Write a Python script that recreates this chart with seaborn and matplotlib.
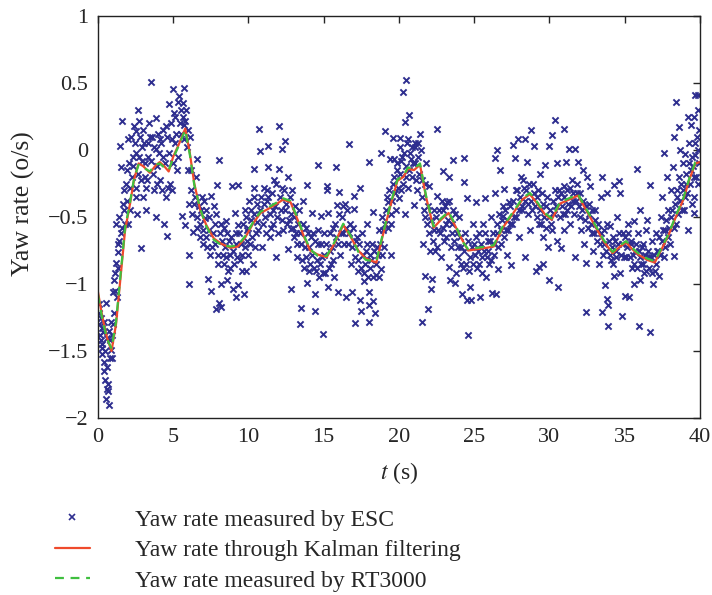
import matplotlib
matplotlib.use("Agg")
import matplotlib.pyplot as plt
import pandas as pd
import seaborn as sns
from matplotlib.lines import Line2D

# ==============================================================================
# DATA
# ==============================================================================

# Kalman filtered yaw rate (red solid)
kalman_t = [0.0, 0.3, 0.6, 0.9, 1.2, 1.5, 1.8, 2.1, 2.4, 2.7, 3.0, 3.45, 3.8, 4.1,
            4.4, 4.7, 5.0, 5.4, 5.8, 6.1, 6.4, 6.8, 7.2, 7.7, 8.2, 8.8, 9.3, 9.8,
            10.3, 10.8, 11.3, 11.9, 12.3, 12.8, 13.3, 13.7, 14.1, 14.6, 15.2, 15.7,
            16.3, 16.8, 17.3, 17.8, 18.5, 18.9, 19.4, 19.9, 20.3, 20.6, 21.0, 21.4,
            21.8, 22.3, 22.8, 23.3, 23.8, 24.2, 24.6, 25.2, 25.8, 26.3, 26.9, 27.6,
            28.2, 28.7, 29.2, 29.7, 30.15, 30.7, 31.3, 31.9, 32.3, 32.7, 33.1, 33.6,
            34.2, 34.7, 35.1, 35.5, 35.9, 36.5, 37.0, 37.5, 37.9, 38.4, 38.9, 39.3,
            39.7, 40.0]
kalman_y = [-1.06, -1.25, -1.40, -1.50, -1.30, -0.95, -0.60, -0.42, -0.22, -0.10,
            -0.12, -0.17, -0.12, -0.09, -0.12, -0.16, -0.05, 0.05, 0.16, -0.02,
            -0.25, -0.45, -0.56, -0.66, -0.70, -0.73, -0.72, -0.65, -0.55, -0.47,
            -0.44, -0.40, -0.37, -0.39, -0.53, -0.65, -0.75, -0.78, -0.80, -0.70,
            -0.56, -0.65, -0.75, -0.81, -0.84, -0.65, -0.43, -0.23, -0.20, -0.14,
            -0.15, -0.11, -0.35, -0.58, -0.52, -0.47, -0.58, -0.67, -0.75, -0.74,
            -0.73, -0.72, -0.58, -0.47, -0.37, -0.33, -0.40, -0.48, -0.52, -0.40,
            -0.37, -0.34, -0.42, -0.50, -0.58, -0.68, -0.77, -0.72, -0.69, -0.74,
            -0.78, -0.82, -0.84, -0.73, -0.64, -0.50, -0.37, -0.22, -0.10, -0.09]

# RT3000 yaw rate (green dashed) - almost on top of the Kalman curve
rt_y = [-1.08, -1.27, -1.41, -1.48, -1.28, -0.93, -0.58, -0.41, -0.21, -0.11,
        -0.13, -0.16, -0.11, -0.10, -0.13, -0.15, -0.06, 0.04, 0.15, -0.03,
        -0.26, -0.44, -0.57, -0.67, -0.71, -0.72, -0.71, -0.64, -0.54, -0.46,
        -0.43, -0.39, -0.36, -0.38, -0.52, -0.64, -0.74, -0.79, -0.79, -0.69,
        -0.55, -0.64, -0.76, -0.82, -0.83, -0.64, -0.42, -0.22, -0.19, -0.13,
        -0.14, -0.10, -0.34, -0.57, -0.51, -0.46, -0.57, -0.68, -0.74, -0.73,
        -0.72, -0.71, -0.57, -0.46, -0.36, -0.32, -0.39, -0.47, -0.51, -0.39,
        -0.36, -0.33, -0.41, -0.49, -0.57, -0.67, -0.76, -0.71, -0.68, -0.73,
        -0.77, -0.81, -0.83, -0.72, -0.63, -0.49, -0.36, -0.21, -0.09, -0.08]

# ESC measurements (blue crosses), grouped by time window
esc_00_05 = [(0.05, -1.30), (0.1, -1.22), (0.15, -1.38), (0.2, -1.25), (0.2, -1.42),
             (0.25, -1.33), (0.3, -1.48), (0.3, -1.52), (0.35, -1.36), (0.42, -1.58),
             (0.42, -1.65), (0.5, -1.72), (0.53, -1.14), (0.55, -1.86), (0.6, -1.78),
             (0.64, -1.80), (0.68, -1.75), (0.71, -1.90), (0.75, -1.35), (0.8, -1.42),
             (0.86, -1.28), (0.86, -1.49), (0.95, -1.55), (0.98, -1.06), (1.05, -1.22),
             (1.08, -0.97), (1.1, -0.92), (1.2, -0.84), (1.2, -0.55), (1.25, -1.10),
             (1.3, -0.76), (1.3, -0.70), (1.4, -0.50), (1.45, 0.03), (1.5, -0.62),
             (1.55, -0.13), (1.6, 0.22), (1.65, -0.40), (1.7, -0.30), (1.8, -0.55),
             (1.9, -0.15), (2.0, -0.55), (2.0, 0.08), (2.1, -0.28), (2.2, 0.10),
             (2.3, -0.05), (2.4, 0.18), (2.5, -0.35), (2.52, -0.28), (2.53, 0.14),
             (2.6, -0.48), (2.64, 0.30), (2.7, 0.22), (2.75, -0.05), (2.86, -0.73),
             (2.9, 0.02), (2.97, -0.35), (3.0, 0.15), (3.1, -0.20), (3.18, -0.28),
             (3.2, -0.45), (3.3, 0.05), (3.41, 0.20), (3.5, 0.51), (3.55, -0.08),
             (3.6, 0.10), (3.7, -0.30), (3.85, 0.01), (3.85, 0.24), (3.86, -0.50),
             (3.95, -0.12), (4.0, 0.12), (4.1, -0.22), (4.2, 0.05), (4.3, -0.05),
             (4.4, -0.55), (4.5, -0.35), (4.55, 0.18), (4.6, 0.10), (4.6, -0.64),
             (4.7, -0.02), (4.74, 0.34), (4.8, -0.25), (4.9, 0.08), (5.0, 0.455),
             (5.0, -0.10)]
esc_05_10 = [(5.07, 0.275), (5.1, 0.05), (5.2, 0.12), (5.3, 0.36), (5.35, -0.05),
             (5.45, 0.20), (5.5, 0.30), (5.6, -0.49), (5.63, 0.25), (5.7, 0.08),
             (5.73, 0.46), (5.73, 0.19), (5.8, -0.56), (5.85, 0.30), (5.9, 0.02),
             (6.0, -0.15), (6.07, -0.78), (6.07, -1.0), (6.1, 0.10), (6.2, -0.30),
             (6.3, -0.61), (6.35, -0.40), (6.5, -0.20), (6.6, -0.07), (6.6, -0.50),
             (6.7, -0.42), (6.8, -0.65), (6.9, -0.35), (7.0, -0.70), (7.1, -0.51),
             (7.2, -0.45), (7.3, -0.96), (7.35, -0.60), (7.5, -0.34), (7.5, -1.05),
             (7.6, -0.72), (7.7, -0.42), (7.75, -0.55), (7.84, -1.19), (7.9, -0.26),
             (7.95, -0.85), (8.06, -0.075), (8.06, -1.14), (8.1, -0.62), (8.17, -1.00),
             (8.2, -1.17), (8.3, -0.78), (8.4, -0.58), (8.5, -0.53), (8.5, -0.80),
             (8.6, -0.97), (8.7, -0.68), (8.8, -0.88), (8.9, -0.27), (8.95, -1.04),
             (9.0, -0.75), (9.1, -0.47), (9.17, -1.10), (9.2, -0.62), (9.3, -0.26),
             (9.3, -0.56), (9.3, -1.01), (9.45, -0.82), (9.5, -0.70), (9.6, -0.90),
             (9.72, -1.075), (9.8, -0.45), (9.83, -0.90), (9.9, -0.60), (9.95, -0.78)]
esc_10_15 = [(10.05, -0.38), (10.1, -0.70), (10.2, -0.52), (10.3, -0.85), (10.4, -0.14),
             (10.4, -0.28), (10.4, -0.35), (10.5, -0.62), (10.6, -0.54), (10.7, 0.16),
             (10.75, -0.45), (10.8, -0.01), (10.9, -0.72), (11.0, -0.28), (11.1, -0.50),
             (11.2, -0.38), (11.3, 0.03), (11.3, -0.13), (11.3, -0.35), (11.4, -0.65),
             (11.5, -0.58), (11.6, -0.45), (11.7, -0.22), (11.8, -0.80), (11.9, -0.50),
             (12.0, -0.14), (12.05, 0.18), (12.1, -0.35), (12.2, 0.01), (12.2, -0.28),
             (12.3, -0.60), (12.4, 0.07), (12.45, -0.45), (12.6, -0.74), (12.6, -0.20),
             (12.7, -0.52), (12.8, -0.59), (12.8, -1.04), (12.9, -0.30), (13.0, -0.65),
             (13.1, -0.42), (13.2, -0.80), (13.3, -0.55), (13.4, -1.30), (13.5, -1.18),
             (13.5, -0.70), (13.6, -0.38), (13.7, -0.88), (13.8, -0.58), (13.9, -0.26),
             (13.9, -0.99), (14.0, -0.72), (14.1, -0.85), (14.2, -0.47), (14.3, -0.62),
             (14.4, -1.075), (14.4, -1.2), (14.5, -0.90), (14.6, -0.11), (14.6, -0.70),
             (14.7, -0.95), (14.8, -0.49), (14.9, -0.80), (14.93, -1.375)]
esc_15_20 = [(15.05, -0.62), (15.1, -0.92), (15.2, -0.30), (15.2, -0.27), (15.26, -1.025),
             (15.3, -0.47), (15.4, -0.75), (15.5, -0.85), (15.6, -0.58), (15.7, -0.95),
             (15.8, -0.125), (15.85, -0.65), (15.9, -0.41), (15.93, -1.06), (16.0, -0.31),
             (16.1, -0.78), (16.2, -0.50), (16.3, -0.62), (16.4, -0.40), (16.5, -1.10),
             (16.6, -0.70), (16.7, 0.045), (16.75, -0.55), (16.8, -0.85), (16.9, -1.06),
             (17.0, -0.34), (17.0, -0.44), (17.1, -1.29), (17.15, -0.68), (17.3, -0.90),
             (17.4, -0.28), (17.4, -1.12), (17.5, -1.20), (17.55, -0.62), (17.7, -0.975),
             (17.8, -0.75), (17.9, -0.55), (18.0, -0.09), (18.0, -1.06), (18.0, -1.16),
             (18.0, -1.28), (18.1, -0.88), (18.2, -0.70), (18.3, -1.13), (18.3, -0.46),
             (18.4, -1.22), (18.5, -0.93), (18.6, -0.78), (18.7, -0.60), (18.8, -0.02),
             (18.8, -0.89), (18.9, -0.50), (19.0, -0.72), (19.1, 0.145), (19.2, -0.35),
             (19.3, -0.39), (19.4, -0.07), (19.5, -0.78), (19.5, -0.55), (19.6, 0.09),
             (19.6, -0.25), (19.7, -0.07), (19.8, -0.45), (19.9, -0.15)]
esc_20_25 = [(20.0, -0.36), (20.05, 0.02), (20.1, 0.09), (20.15, -0.30), (20.2, -0.05),
             (20.3, 0.43), (20.4, 0.21), (20.4, -0.48), (20.45, -0.12), (20.5, 0.525),
             (20.55, 0.05), (20.6, -0.28), (20.7, 0.26), (20.75, -0.02), (20.8, -0.07),
             (20.9, -0.20), (21.0, -0.41), (21.05, 0.02), (21.1, -0.10), (21.2, -0.30),
             (21.3, 0.05), (21.4, 0.12), (21.5, -1.28), (21.5, -0.22), (21.6, -0.70),
             (21.7, -0.94), (21.75, -0.50), (21.8, -0.10), (21.9, -1.19), (22.0, -0.27),
             (22.0, -0.62), (22.1, -1.04), (22.2, -0.96), (22.3, -0.45), (22.4, -0.75),
             (22.5, 0.16), (22.5, -0.34), (22.6, -0.60), (22.8, -0.80), (22.9, -0.16),
             (22.9, -0.45), (23.0, -0.68), (23.1, -0.55), (23.2, -0.39), (23.3, -0.20),
             (23.3, -0.87), (23.4, -0.97), (23.5, -0.62), (23.6, -0.075), (23.6, -0.45),
             (23.7, -0.99), (23.8, -0.92), (23.9, -0.72), (24.0, -0.50), (24.1, -0.85),
             (24.2, -1.075), (24.3, -0.06), (24.3, -0.235), (24.4, -0.62), (24.5, -0.36),
             (24.56, -1.38), (24.55, -1.12), (24.7, -1.02), (24.75, -0.80), (24.8, -1.12),
             (24.9, -0.55)]
esc_25_30 = [(25.0, -0.70), (25.1, -0.39), (25.2, -0.88), (25.3, -0.62), (25.4, -1.10),
             (25.5, -0.80), (25.6, -0.55), (25.7, -0.36), (25.8, -0.95), (25.9, -0.68),
             (26.0, -0.85), (26.1, -0.50), (26.2, -1.07), (26.3, -0.78), (26.4, -0.06),
             (26.4, -0.32), (26.45, -1.075), (26.5, 0.0), (26.55, -0.62), (26.6, -0.89),
             (26.7, -0.15), (26.8, -0.70), (26.9, -0.42), (26.9, -0.49), (27.0, -0.29),
             (27.1, -0.60), (27.2, -0.78), (27.3, -0.39), (27.45, -0.86), (27.5, -0.55),
             (27.6, 0.04), (27.7, -0.06), (27.8, -0.50), (27.85, -0.30), (27.9, 0.08),
             (28.0, -0.65), (28.1, -0.20), (28.2, -0.45), (28.3, -0.28), (28.4, 0.08),
             (28.4, -0.80), (28.5, -0.09), (28.6, -0.40), (28.7, -0.60), (28.8, 0.15),
             (28.9, -0.25), (29.0, 0.03), (29.1, -0.90), (29.2, -0.50), (29.3, -0.55),
             (29.3, -0.87), (29.4, -0.18), (29.5, -0.32), (29.55, -0.85), (29.6, -0.65),
             (29.7, -0.11), (29.8, -0.42), (29.9, -0.72), (30.0, 0.03), (30.0, -0.97)]
esc_30_35 = [(30.1, -0.55), (30.2, 0.11), (30.25, -0.38), (30.4, 0.225), (30.5, -0.10),
             (30.5, -0.68), (30.6, -1.02), (30.65, -0.30), (30.8, -0.73), (30.9, -0.48),
             (31.0, 0.16), (31.0, -0.27), (31.0, -0.60), (31.1, -0.09), (31.2, -0.45),
             (31.3, 0.01), (31.4, -0.55), (31.5, -0.22), (31.6, -0.38), (31.7, 0.01),
             (31.7, -0.80), (31.8, -0.32), (31.9, -0.09), (32.0, -0.50), (32.1, -0.60),
             (32.2, -0.15), (32.3, -0.70), (32.4, -0.84), (32.4, -1.21), (32.5, -0.20),
             (32.6, -0.40), (32.7, -0.27), (32.8, -0.62), (32.9, -0.75), (33.0, -0.45),
             (33.2, -0.60), (33.3, -0.85), (33.4, -0.35), (33.5, -0.20), (33.5, -1.21),
             (33.6, -0.70), (33.7, -1.01), (33.8, -0.32), (33.8, -1.11), (33.85, -0.55),
             (33.9, -1.16), (33.9, -1.31), (34.0, -0.57), (34.1, -0.82), (34.2, -0.65),
             (34.3, -0.26), (34.3, -0.94), (34.4, -0.75), (34.5, -0.50), (34.6, -0.23),
             (34.7, -0.32), (34.7, -0.92), (34.8, -1.24), (34.9, -0.62), (35.0, -1.09)]
esc_35_40 = [(35.1, -0.80), (35.2, -0.55), (35.3, -1.10), (35.4, -0.70), (35.5, -0.88),
             (35.6, -0.53), (35.6, -1.00), (35.7, -0.75), (35.8, -0.14), (35.9, -0.62),
             (35.97, -1.31), (36.0, -0.45), (36.0, -0.97), (36.1, -0.85), (36.2, -0.70),
             (36.3, -0.92), (36.4, -0.60), (36.5, -0.52), (36.6, -0.80), (36.7, -0.26),
             (36.7, -1.355), (36.8, -0.68), (36.9, -1.00), (37.0, -0.90), (37.1, -0.62),
             (37.2, -0.75), (37.3, -0.94), (37.4, -0.50), (37.5, -0.35), (37.6, -0.02),
             (37.6, -0.80), (37.7, -0.60), (37.8, -0.20), (37.9, -0.45), (38.0, -0.70),
             (38.1, -0.30), (38.2, -0.13), (38.3, 0.10), (38.3, -0.79), (38.4, 0.36),
             (38.4, -0.55), (38.5, -0.35), (38.6, 0.17), (38.6, -0.20), (38.7, 0.0),
             (38.8, -0.45), (38.9, -0.10), (39.0, -0.03), (39.0, -0.35), (39.1, -0.25),
             (39.2, 0.25), (39.2, -0.60), (39.3, 0.05), (39.4, 0.19), (39.4, -0.15),
             (39.5, -0.40), (39.6, 0.25), (39.6, -0.20), (39.6, -0.35), (39.6, -0.47),
             (39.7, 0.41), (39.7, -0.04), (39.8, 0.10), (39.85, -0.25), (39.9, 0.30),
             (39.9, 0.41), (39.95, -0.10)]

# denser band of ESC samples lying close to the reference curve
esc_near_00_10 = [(0.1, -1.15), (0.25, -1.45), (0.38, -1.28), (0.45, -1.50), (0.58, -1.62),
                  (0.62, -1.40), (0.78, -1.55), (0.9, -1.38), (1.0, -1.30), (1.15, -1.05),
                  (1.35, -0.88), (1.42, -0.68), (1.6, -0.58), (1.75, -0.45), (1.85, -0.25),
                  (1.95, -0.38), (2.05, -0.10), (2.15, -0.45), (2.25, -0.20), (2.35, -0.12),
                  (2.45, 0.05), (2.55, -0.02), (2.65, -0.18), (2.8, 0.10), (2.85, -0.22),
                  (2.95, -0.08), (3.05, 0.05), (3.15, -0.10), (3.25, -0.22), (3.35, -0.05),
                  (3.45, 0.10), (3.65, -0.18), (3.75, 0.02), (3.9, -0.25), (4.05, -0.02),
                  (4.15, 0.08), (4.25, -0.30), (4.35, 0.15), (4.45, -0.10), (4.65, -0.28),
                  (4.85, 0.20), (4.95, -0.30), (5.15, 0.25), (5.25, -0.15), (5.4, 0.40),
                  (5.55, 0.12), (5.65, 0.35), (5.8, 0.22), (5.95, 0.15), (6.05, -0.40),
                  (6.15, -0.15), (6.25, -0.48), (6.45, -0.35), (6.55, -0.58), (6.75, -0.55),
                  (6.85, -0.45), (6.95, -0.60), (7.05, -0.38), (7.15, -0.65), (7.25, -0.72),
                  (7.4, -0.50), (7.45, -0.78), (7.65, -0.62), (7.8, -0.70), (7.85, -0.48),
                  (8.0, -0.78), (8.15, -0.55), (8.25, -0.68), (8.35, -0.85), (8.45, -0.72),
                  (8.55, -0.62), (8.65, -0.90), (8.75, -0.78), (8.85, -0.65), (9.05, -0.85),
                  (9.15, -0.70), (9.25, -0.80), (9.4, -0.62), (9.55, -0.78), (9.65, -0.55),
                  (9.75, -0.72), (9.85, -0.50), (9.92, -0.68)]
esc_near_10_20 = [(10.0, -0.58), (10.15, -0.45), (10.25, -0.65), (10.35, -0.48), (10.45, -0.72),
                  (10.55, -0.40), (10.65, -0.60), (10.85, -0.35), (10.95, -0.55), (11.05, -0.40),
                  (11.15, -0.62), (11.25, -0.30), (11.45, -0.48), (11.55, -0.32), (11.65, -0.55),
                  (11.75, -0.42), (11.85, -0.25), (11.95, -0.62), (12.15, -0.45), (12.25, -0.52),
                  (12.35, -0.30), (12.5, -0.40), (12.55, -0.55), (12.75, -0.35), (12.85, -0.48),
                  (12.95, -0.58), (13.05, -0.50), (13.15, -0.62), (13.25, -0.70), (13.35, -0.45),
                  (13.45, -0.62), (13.55, -0.82), (13.65, -0.55), (13.75, -0.72), (13.85, -0.80),
                  (13.95, -0.62), (14.05, -0.90), (14.15, -0.65), (14.25, -0.78), (14.35, -0.88),
                  (14.45, -0.68), (14.55, -0.82), (14.65, -0.60), (14.75, -0.85), (14.85, -0.70),
                  (14.95, -0.92), (15.0, -0.78), (15.15, -0.70), (15.35, -0.88), (15.45, -0.62),
                  (15.55, -0.72), (15.65, -0.82), (15.75, -0.55), (15.95, -0.70), (16.05, -0.48),
                  (16.15, -0.62), (16.25, -0.42), (16.35, -0.70), (16.45, -0.58), (16.55, -0.45),
                  (16.65, -0.62), (16.85, -0.72), (16.95, -0.58), (17.05, -0.80), (17.2, -0.65),
                  (17.25, -0.82), (17.35, -0.70), (17.45, -0.88), (17.6, -0.78), (17.65, -0.92),
                  (17.75, -0.85), (17.85, -0.70), (17.95, -0.95), (18.05, -0.78), (18.15, -0.82),
                  (18.25, -0.95), (18.35, -0.75), (18.45, -0.85), (18.55, -0.72), (18.65, -0.95),
                  (18.75, -0.70), (18.85, -0.78), (18.95, -0.60), (19.05, -0.55), (19.15, -0.45),
                  (19.25, -0.58), (19.35, -0.30), (19.45, -0.48), (19.55, -0.38), (19.65, -0.20),
                  (19.75, -0.32), (19.85, -0.10), (19.95, -0.28)]
esc_near_20_30 = [(20.05, -0.18), (20.15, -0.08), (20.25, -0.25), (20.35, -0.02), (20.5, -0.20),
                  (20.6, 0.08), (20.65, -0.15), (20.85, 0.02), (20.95, -0.10), (21.1, 0.05),
                  (21.15, -0.22), (21.25, -0.05), (21.35, -0.18), (21.45, 0.00), (21.55, -0.35),
                  (21.65, -0.45), (21.7, -0.25), (21.85, -0.55), (21.95, -0.42), (22.05, -0.75),
                  (22.15, -0.52), (22.25, -0.68), (22.35, -0.60), (22.45, -0.50), (22.55, -0.72),
                  (22.65, -0.45), (22.75, -0.62), (22.85, -0.38), (22.95, -0.58), (23.05, -0.42),
                  (23.15, -0.65), (23.25, -0.52), (23.35, -0.38), (23.45, -0.72), (23.55, -0.55),
                  (23.65, -0.68), (23.75, -0.48), (23.85, -0.62), (23.95, -0.80), (24.05, -0.65),
                  (24.15, -0.72), (24.25, -0.88), (24.35, -0.75), (24.45, -0.85), (24.6, -0.68),
                  (24.65, -0.90), (24.85, -0.72), (24.95, -0.85), (25.05, -0.78), (25.15, -0.65),
                  (25.25, -0.75), (25.35, -0.85), (25.45, -0.70), (25.55, -0.92), (25.65, -0.75),
                  (25.75, -0.62), (25.85, -0.80), (25.95, -0.75), (26.05, -0.68), (26.15, -0.82),
                  (26.25, -0.62), (26.35, -0.70), (26.5, -0.55), (26.6, -0.72), (26.65, -0.48),
                  (26.75, -0.60), (26.85, -0.52), (26.95, -0.65), (27.05, -0.45), (27.15, -0.52),
                  (27.25, -0.60), (27.35, -0.42), (27.4, -0.55), (27.55, -0.38), (27.65, -0.50),
                  (27.75, -0.30), (27.95, -0.45), (28.05, -0.35), (28.15, -0.42), (28.25, -0.22),
                  (28.35, -0.38), (28.45, -0.30), (28.55, -0.48), (28.65, -0.25), (28.75, -0.38),
                  (28.85, -0.45), (28.95, -0.32), (29.05, -0.42), (29.15, -0.35), (29.25, -0.30),
                  (29.35, -0.45), (29.45, -0.55), (29.6, -0.40), (29.65, -0.50), (29.75, -0.58),
                  (29.85, -0.35), (29.95, -0.50)]
esc_near_30_40 = [(30.05, -0.45), (30.15, -0.60), (30.3, -0.48), (30.35, -0.30), (30.45, -0.42),
                  (30.55, -0.35), (30.7, -0.50), (30.75, -0.32), (30.85, -0.42), (30.95, -0.35),
                  (31.05, -0.48), (31.15, -0.30), (31.25, -0.40), (31.35, -0.28), (31.45, -0.42),
                  (31.55, -0.32), (31.65, -0.48), (31.75, -0.38), (31.85, -0.25), (31.95, -0.42),
                  (32.05, -0.32), (32.15, -0.45), (32.25, -0.38), (32.35, -0.52), (32.45, -0.42),
                  (32.55, -0.58), (32.65, -0.48), (32.75, -0.55), (32.85, -0.45), (32.95, -0.62),
                  (33.05, -0.52), (33.15, -0.68), (33.25, -0.55), (33.35, -0.70), (33.45, -0.62),
                  (33.55, -0.78), (33.65, -0.60), (33.75, -0.75), (33.95, -0.68), (34.05, -0.78),
                  (34.15, -0.72), (34.25, -0.85), (34.35, -0.68), (34.45, -0.80), (34.55, -0.70),
                  (34.65, -0.62), (34.75, -0.78), (34.85, -0.70), (34.95, -0.80), (35.05, -0.65),
                  (35.15, -0.72), (35.25, -0.62), (35.35, -0.80), (35.45, -0.68), (35.55, -0.78),
                  (35.65, -0.85), (35.75, -0.70), (35.85, -0.88), (35.95, -0.75), (36.05, -0.80),
                  (36.15, -0.72), (36.25, -0.85), (36.35, -0.78), (36.45, -0.90), (36.55, -0.75),
                  (36.65, -0.88), (36.75, -0.80), (36.85, -0.92), (36.95, -0.78), (37.05, -0.85),
                  (37.15, -0.75), (37.25, -0.65), (37.35, -0.78), (37.45, -0.68), (37.55, -0.60),
                  (37.65, -0.72), (37.75, -0.52), (37.85, -0.65), (37.95, -0.58), (38.05, -0.50),
                  (38.15, -0.45), (38.25, -0.58), (38.35, -0.40), (38.45, -0.30), (38.55, -0.48),
                  (38.65, -0.38), (38.75, -0.25), (38.85, -0.30), (38.95, -0.45), (39.05, -0.18),
                  (39.15, -0.32), (39.25, -0.10), (39.35, -0.25), (39.45, -0.05), (39.55, -0.12),
                  (39.65, 0.05), (39.75, -0.20), (39.85, 0.00), (39.95, 0.15)]

x_ticks = [0, 5, 10, 15, 20, 25, 30, 35, 40]
y_ticks = [-2, -1.5, -1, -0.5, 0, 0.5, 1]
y_tick_labels = ["\u22122", "\u22121.5", "\u22121", "\u22120.5", "0", "0.5", "1"]
legend_labels = [
    "Yaw rate measured by ESC",
    "Yaw rate through Kalman filtering",
    "Yaw rate measured by RT3000",
]

ESC_COLOR = "#2e2e8f"
KALMAN_COLOR = "#ef4a2c"
RT_COLOR = "#3fbf3f"

# ==============================================================================
# PLOT
# ==============================================================================

sns.set_style("white")
plt.rcParams["font.family"] = ["Liberation Serif", "DejaVu Serif"]
plt.rcParams["mathtext.fontset"] = "stix"

esc_points = (esc_00_05 + esc_05_10 + esc_10_15 + esc_15_20
              + esc_20_25 + esc_25_30 + esc_30_35 + esc_35_40
              + esc_near_00_10 + esc_near_10_20 + esc_near_20_30 + esc_near_30_40)
esc_df = pd.DataFrame(esc_points, columns=["t", "yaw"])
kalman_df = pd.DataFrame({"t": kalman_t, "yaw": kalman_y})
rt_df = pd.DataFrame({"t": kalman_t, "yaw": rt_y})

fig = plt.figure(figsize=(7.12, 5.95), dpi=100)
ax = fig.add_axes([0.1376, 0.2975, 0.8454, 0.6755])

sns.scatterplot(data=esc_df, x="t", y="yaw", ax=ax, marker="x", s=20,
                color=ESC_COLOR, linewidth=1.4, legend=False)
sns.lineplot(data=kalman_df, x="t", y="yaw", ax=ax, color=KALMAN_COLOR,
             linewidth=1.6, estimator=None, sort=False)
sns.lineplot(data=rt_df, x="t", y="yaw", ax=ax, color=RT_COLOR,
             linewidth=1.6, estimator=None, sort=False, linestyle=(0, (4, 3)))

ax.set_xlim(0, 40)
ax.set_ylim(-2, 1)
ax.set_xticks(x_ticks)
ax.set_yticks(y_ticks)
ax.set_yticklabels(y_tick_labels)
ax.tick_params(direction="in", top=True, right=True, length=5, width=1,
               labelsize=16)
ax.tick_params(axis="x", pad=7)
ax.tick_params(axis="y", pad=7)
for spine in ax.spines.values():
    spine.set_visible(True)
    spine.set_linewidth(1.0)
    spine.set_color("#222222")

ax.set_xlabel("$t$ (s)", fontsize=17)
ax.set_ylabel("Yaw rate (o/s)", fontsize=18.5)
ax.xaxis.set_label_coords(0.5, -0.105)
ax.yaxis.set_label_coords(-0.105, 0.534)

handles = [
    Line2D([], [], marker="x", linestyle="none", color=ESC_COLOR, markersize=4,
           markeredgewidth=1.2),
    Line2D([], [], color=KALMAN_COLOR, linewidth=1.6),
    Line2D([], [], color=RT_COLOR, linewidth=1.6, linestyle=(0, (4, 3))),
]
fig.legend(handles, legend_labels, loc="upper left", bbox_to_anchor=(0.047, 0.18),
           frameon=False, fontsize=17, handlelength=1.5, handletextpad=1.9,
           labelspacing=0.38)

fig.savefig("out.png", dpi=100)
